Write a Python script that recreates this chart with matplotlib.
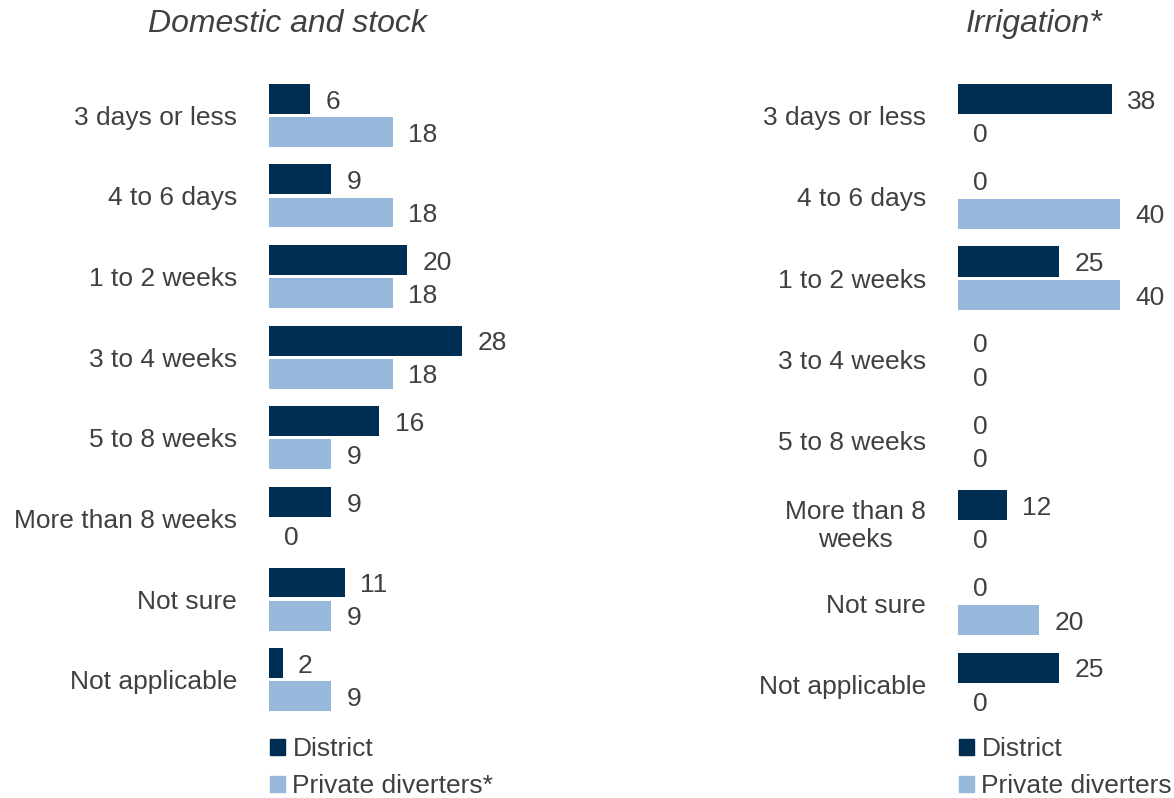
import numpy as np
import matplotlib
matplotlib.use("Agg")
import matplotlib.pyplot as plt
from matplotlib.patches import Patch

plt.rcParams['font.family'] = ['Liberation Sans', 'DejaVu Sans']

# Survey results: share of respondents (%) by duration
categories_ds = ['3 days or less', '4 to 6 days', '1 to 2 weeks', '3 to 4 weeks',
                 '5 to 8 weeks', 'More than 8 weeks', 'Not sure', 'Not applicable']
categories_irr = ['3 days or less', '4 to 6 days', '1 to 2 weeks', '3 to 4 weeks',
                  '5 to 8 weeks', 'More than 8\nweeks', 'Not sure', 'Not applicable']

ds_district = [6, 9, 20, 28, 16, 9, 11, 2]
ds_private = [18, 18, 18, 18, 9, 0, 9, 9]

irr_district = [38, 0, 25, 0, 0, 12, 0, 25]
irr_private = [0, 40, 40, 0, 0, 0, 20, 0]

DARK = '#002D52'
LIGHT = '#95B8DB'
TEXT = '#404040'
FS = 19

fig = plt.figure(figsize=(11.74, 7.98), dpi=100)

# axes rectangles in figure fractions
ax1 = fig.add_axes([269 / 1174, 1 - 720 / 798, 207 / 1174, 645 / 798])
ax2 = fig.add_axes([958 / 1174, 1 - 725 / 798, 162 / 1174, 650 / 798])


def draw_panel(ax, cats, district, private, xmax, legend_labels):
    y = np.arange(len(cats))
    h = 0.37
    off = 0.205
    ax.barh(y - off, district, height=h, color=DARK, label=legend_labels[0])
    ax.barh(y + off, private, height=h, color=LIGHT, label=legend_labels[1])
    for yi, d, p in zip(y, district, private):
        ax.annotate(str(d), (d, yi - off), xytext=(11, -2), textcoords='offset points',
                    va='center', ha='left', fontsize=FS, color=TEXT)
        ax.annotate(str(p), (p, yi + off), xytext=(11, -2), textcoords='offset points',
                    va='center', ha='left', fontsize=FS, color=TEXT)
    ax.set_xlim(0, xmax)
    ax.set_ylim(len(cats) - 0.5, -0.5)
    ax.set_yticks(y)
    ax.set_yticklabels(cats, fontsize=FS, color=TEXT, multialignment='center')
    ax.tick_params(axis='y', length=0, pad=23)
    ax.set_xticks([])
    for s in ax.spines.values():
        s.set_visible(False)


draw_panel(ax1, categories_ds, ds_district, ds_private, 30,
           ['District', 'Private diverters*'])
draw_panel(ax2, categories_irr, irr_district, irr_private, 40,
           ['District', 'Private diverters'])

fig.text(287 / 1174, 1 - 24 / 798, 'Domestic and stock', ha='center', va='center',
         fontsize=23, style='italic', color=TEXT)
fig.text(1034 / 1174, 1 - 24 / 798, 'Irrigation*', ha='center', va='center',
         fontsize=23, style='italic', color=TEXT)

for ax, x0, labels in [(ax1, 270, ['District', 'Private diverters*']),
                       (ax2, 959, ['District', 'Private diverters'])]:
    handles = [Patch(color=DARK), Patch(color=LIGHT)]
    leg = fig.legend(handles, labels, loc='upper left',
                     bbox_to_anchor=(x0 / 1174, 1 - 737 / 798),
                     frameon=False, fontsize=FS, handlelength=0.55, handleheight=0.55,
                     handletextpad=0.3, labelspacing=0.5, borderpad=0, borderaxespad=0)
    for t in leg.get_texts():
        t.set_color(TEXT)

fig.savefig('out.png', dpi=100)
